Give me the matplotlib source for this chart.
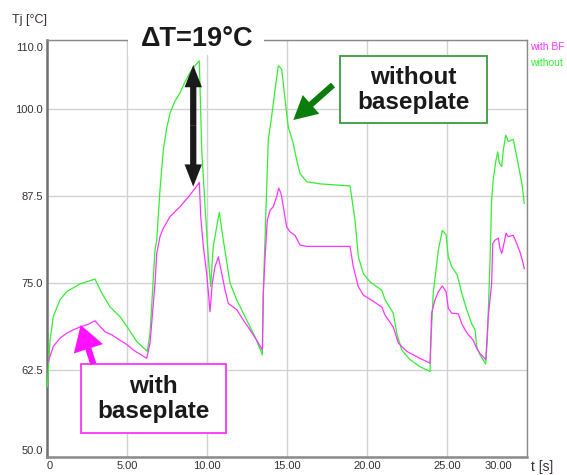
import matplotlib
matplotlib.use("Agg")
import matplotlib.pyplot as plt
from matplotlib.patches import Rectangle, FancyArrowPatch
from matplotlib.transforms import ScaledTranslation

plt.rcParams['font.family'] = ['Liberation Sans', 'DejaVu Sans']

# ---------------- data ----------------
t_without = [0.02, 0.19, 0.39, 0.81, 1.23, 2.06, 3.00, 3.42, 3.94, 4.56, 5.08, 5.61, 6.27,
             6.44, 6.75, 6.86, 7.06, 7.27, 7.48, 7.69, 8.00, 8.31, 8.63, 8.94, 9.25, 9.52,
             9.67, 9.88, 10.08, 10.23,
             10.39, 10.77, 11.02, 11.44, 11.86, 12.48, 13.00, 13.46, 13.52, 13.69, 13.83,
             14.04, 14.25, 14.46, 14.67, 14.88, 15.08, 15.39, 15.61, 15.81, 16.23, 17.06,
             18.94, 19.25, 19.46, 19.77, 20.19, 20.92, 21.13, 21.64, 21.86, 22.17, 22.69,
             23.31, 23.94, 24.00, 24.14, 24.46, 24.71, 24.94, 25.08, 25.29, 25.64, 25.92,
             26.23, 26.54, 26.75, 26.86, 27.06, 27.42, 27.52, 27.69, 27.79, 27.89, 28.06,
             28.17, 28.27, 28.42, 28.52, 28.67, 28.83, 29.14, 29.36, 29.56, 29.71, 29.83]
T_without = [60.1, 66.8, 70.2, 72.6, 73.8, 74.9, 75.6, 73.6, 71.6, 70.2, 68.5, 66.6, 65.2,
             67.8, 79.8, 81.2, 88.4, 94.2, 97.3, 99.5, 101.2, 102.4, 104.0, 105.3, 106.3, 107.0,
             94.2, 86.0, 78.8, 74.5,
             80.3, 85.2, 81.2, 75.0, 72.6, 69.7, 67.3, 64.7, 73.6, 86.0, 95.6,
             99.0, 102.8, 106.3, 105.8, 101.4, 97.5, 95.1, 92.7, 90.8, 89.6, 89.3,
             89.0, 84.1, 78.8, 76.4, 75.2, 74.0, 72.6, 70.7, 67.8, 65.4, 64.0,
             63.0, 62.3, 66.8, 73.6, 79.8, 82.6, 82.0, 78.8, 77.4, 76.2, 73.6,
             71.2, 69.2, 68.3, 65.9, 64.7, 63.4, 66.8, 78.3, 87.0, 89.9, 92.7,
             93.9, 92.3, 91.8, 94.2, 96.3, 95.4, 95.7, 93.2, 90.8, 88.9, 86.5]

t_with_bf = [0.08, 0.39, 0.81, 1.23, 1.64, 2.06, 2.58, 3.00, 3.31, 3.63, 4.04, 4.56, 4.98,
             5.39, 6.23, 6.44, 6.75, 6.86, 7.06, 7.27, 7.69, 8.31, 8.94, 9.52, 9.61, 9.77,
             9.98, 10.19, 10.33, 10.50, 10.71, 10.92, 11.13, 11.33, 11.86, 12.27, 12.69,
             13.11, 13.46, 13.52, 13.63, 13.77, 13.94, 14.14, 14.36, 14.48, 14.63, 14.77,
             14.98, 15.19, 15.50, 15.81, 16.23, 18.94, 19.14, 19.46, 19.77, 20.39, 20.92,
             21.13, 21.64, 21.96, 22.48, 23.31, 23.94, 24.04, 24.25, 24.46, 24.71, 24.94,
             25.08, 25.29, 25.71, 25.92, 26.13, 26.33, 26.64, 26.86, 27.06, 27.42, 27.58,
             27.79, 27.86, 28.00, 28.21, 28.31, 28.42, 28.56, 28.69, 28.83, 29.14, 29.36,
             29.56, 29.71, 29.83]
T_with_bf = [63.7, 65.9, 67.1, 67.8, 68.3, 68.7, 69.1, 69.6, 68.8, 68.0, 67.6, 66.8, 66.2,
             65.4, 64.2, 66.4, 75.0, 79.3, 81.7, 82.9, 84.6, 86.0, 87.7, 89.5, 84.6, 80.3,
             76.4, 70.9, 75.0, 77.4, 78.8, 76.4, 74.0, 72.1, 71.2, 69.7, 68.3,
             66.8, 65.4, 73.6, 78.8, 84.1, 85.5, 86.0, 87.5, 88.7, 87.9, 86.0,
             83.1, 82.4, 81.9, 80.5, 80.3, 80.3, 77.4, 74.5, 73.3, 72.4, 71.6,
             70.4, 68.7, 66.4, 65.2, 64.2, 63.5, 70.7, 72.6, 73.8, 74.6, 73.8,
             71.4, 70.7, 70.6, 69.2, 68.3, 67.6, 66.8, 65.6, 64.9, 64.0, 70.2,
             75.0, 80.7, 81.2, 81.5, 80.0, 79.3, 80.7, 82.2, 81.7, 81.9, 80.7,
             79.5, 78.3, 77.1]

x_ticks = [0, 5, 10, 15, 20, 25, 30]
x_tick_labels = ["0", "5.00", "10.00", "15.00", "20.00", "25.00", "30.00"]
y_ticks = [50, 62.5, 75, 87.5, 100, 110]
y_tick_labels = ["50.0", "62.5", "75.0", "87.5", "100.0", "110.0"]

series_names = ["with BF", "without"]
delta_T_label = "\u0394T=19\u00b0C"
delta_T_top = 106.4
delta_T_bottom = 88.9
delta_T_time = 9.14

# ---------------- figure ----------------
W, H = 567, 475
fig = plt.figure(figsize=(W / 100, H / 100), dpi=100)

def fx(x):
    return x / W

def fy(y):
    return 1 - y / H

ax = fig.add_axes([fx(47), fy(457), 480 / W, 417 / H])
ax.set_xlim(0, 30)
ax.set_ylim(50, 110)

col_bf = "#ff33ff"
col_wo = "#33ee33"
ax.plot(t_without, T_without, color=col_wo, lw=0.9, zorder=3)
ax.plot(t_with_bf, T_with_bf, color=col_bf, lw=0.9, zorder=3)

ax.set_xticks(x_ticks, x_tick_labels)
ax.set_yticks(y_ticks, y_tick_labels)
ax.tick_params(length=0, labelsize=8, colors="#3a3030", pad=3)
ax.grid(True, color="#d2d2d2", lw=1.0)
ax.set_axisbelow(True)

for name, sp in ax.spines.items():
    sp.set_color("#8a8a8a")
    sp.set_linewidth(1.0)
ax.spines["left"].set_color("#707070")
ax.spines["left"].set_linewidth(1.8)
ax.spines["bottom"].set_color("#8a8a8a")
ax.spines["bottom"].set_linewidth(1.8)

# shift the end labels like the reference does
xt = ax.xaxis.get_major_ticks()
yt = ax.yaxis.get_major_ticks()
xt[0].label1.set_transform(xt[0].label1.get_transform() + ScaledTranslation(3 / 100, 0, fig.dpi_scale_trans))
xt[-1].label1.set_transform(xt[-1].label1.get_transform() + ScaledTranslation(-29 / 100, 0, fig.dpi_scale_trans))
yt[0].label1.set_transform(yt[0].label1.get_transform() + ScaledTranslation(0, 7 / 100, fig.dpi_scale_trans))
yt[-1].label1.set_transform(yt[-1].label1.get_transform() + ScaledTranslation(0, -7 / 100, fig.dpi_scale_trans))

# axis titles
fig.text(fx(12), fy(20), "Tj [\u00b0C]", fontsize=9, color="#3a3030", ha="left", va="center")
fig.text(fx(531), fy(467), "t [s]", fontsize=10, color="#3a3030", ha="left", va="center")

# legend-like labels at right
fig.text(fx(530), fy(47), series_names[0], fontsize=7.5, color=col_bf, ha="left", va="center")
fig.text(fx(530), fy(63), series_names[1], fontsize=7.5, color=col_wo, ha="left", va="center")

# Delta T label with white background covering top spine
fig.add_artist(Rectangle((fx(128), fy(55)), (264 - 128) / W, 35 / H, transform=fig.transFigure,
                         facecolor="white", edgecolor="none", zorder=5))
fig.text(fx(197.5), fy(38.5), delta_T_label, fontsize=19.5, fontweight="bold", color="#1a1a1a",
         ha="center", va="center", zorder=6)

# black double arrow (data coordinates)
mid = (delta_T_top + delta_T_bottom) / 2
for end in (delta_T_top, delta_T_bottom):
    ax.add_patch(FancyArrowPatch((delta_T_time, mid), (delta_T_time, end),
                                 arrowstyle="simple,head_length=1.6,head_width=1.25,tail_width=0.45",
                                 mutation_scale=10, color="#1a1a1a", lw=0, zorder=6,
                                 shrinkA=0, shrinkB=0))

# green box and arrow
fig.add_artist(Rectangle((fx(340), fy(123.3)), (487.3 - 340) / W, (123.3 - 55.7) / H,
                         transform=fig.transFigure, facecolor="white", edgecolor="#3c9a3c",
                         lw=1.3, zorder=5))
fig.text(fx(413.5), fy(90), "without\nbaseplate", fontsize=17.5, fontweight="bold",
         color="#1a1a1a", ha="center", va="center", linespacing=1.15, zorder=6)
fig.add_artist(FancyArrowPatch((fx(333), fy(85)), (fx(293.3), fy(120)), transform=fig.transFigure,
                               arrowstyle="simple,head_length=1.7,head_width=1.8,tail_width=0.45",
                               mutation_scale=10, color="#0a7d0a", lw=0, zorder=6,
                               shrinkA=0, shrinkB=0))

# magenta box and arrow
fig.add_artist(Rectangle((fx(80.7), fy(432.7)), (226 - 80.7) / W, (432.7 - 364.3) / H,
                         transform=fig.transFigure, facecolor="white", edgecolor="#ff33ff",
                         lw=1.3, zorder=5))
fig.text(fx(153.5), fy(399), "with\nbaseplate", fontsize=17.5, fontweight="bold",
         color="#1a1a1a", ha="center", va="center", linespacing=1.15, zorder=6)
fig.add_artist(FancyArrowPatch((fx(93.3), fy(364)), (fx(80.7), fy(325)), transform=fig.transFigure,
                               arrowstyle="simple,head_length=1.8,head_width=2.2,tail_width=0.45",
                               mutation_scale=10, color="#ff11ff", lw=0, zorder=6,
                               shrinkA=0, shrinkB=0))

fig.savefig("out.png", dpi=100, facecolor="white")
